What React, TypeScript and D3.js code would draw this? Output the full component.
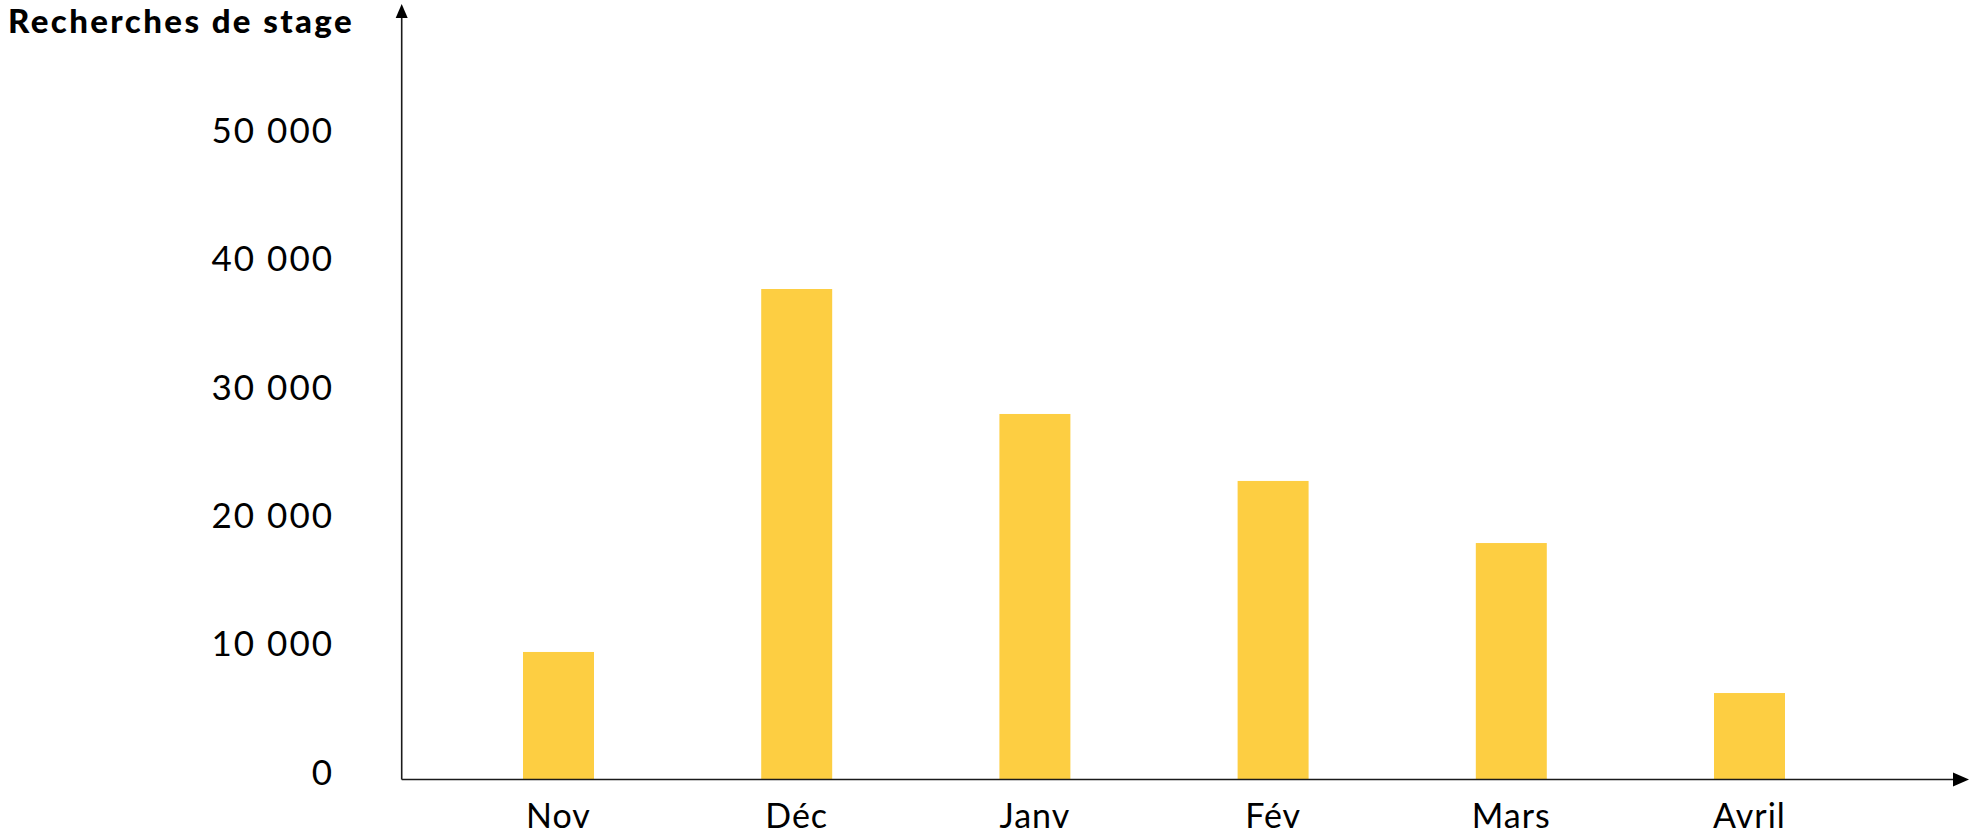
import React, { useEffect, useRef } from "react";
import * as d3 from "d3";

const months = ["Nov", "Déc", "Janv", "Fév", "Mars", "Avril"];
const searches = [9940, 38230, 28490, 23270, 18430, 6740];
const yTicks = [0, 10000, 20000, 30000, 40000, 50000];
const title = "Recherches de stage";

export default function App() {
  const svgRef = useRef<SVGSVGElement>(null);

  useEffect(() => {
    const width = 1972;
    const height = 837;
    const axisX = 401.7;
    const axisY = 779.5;
    const font = "Lato, 'Open Sans', sans-serif";

    const svg = d3.select(svgRef.current);
    svg.selectAll("*").remove();
    svg.attr("width", width).attr("height", height);

    const x = d3.scalePoint<string>()
      .domain(months)
      .range([558.5, 1749.5]);
    const barW = x.step() * 0.298;

    const y = d3.scaleLinear()
      .domain([0, 50000])
      .range([axisY, axisY - 641.5]);

    // bars
    svg.append("g")
      .selectAll("rect")
      .data(months)
      .enter().append("rect")
      .attr("x", d => (x(d) as number) - barW / 2)
      .attr("y", (d, i) => y(searches[i]))
      .attr("width", barW)
      .attr("height", (d, i) => axisY - y(searches[i]))
      .attr("fill", "#FDCE42");

    // axes with arrowheads
    const ax = svg.append("g").attr("stroke", "#1a1a1a").attr("stroke-width", 1.6);
    ax.append("line")
      .attr("x1", axisX).attr("y1", axisY)
      .attr("x2", axisX).attr("y2", 16);
    ax.append("line")
      .attr("x1", axisX).attr("y1", axisY)
      .attr("x2", 1956).attr("y2", axisY);

    const arrow = svg.append("g").attr("fill", "#000");
    arrow.append("path")
      .attr("d", `M${axisX},4 L${axisX - 6},18 L${axisX + 6},18 Z`);
    arrow.append("path")
      .attr("d", `M1969,${axisY} L1953,${axisY - 7} L1953,${axisY + 7} Z`);

    // y tick labels
    const fmt = (v: number) => d3.format(",")(v).replace(/,/g, " ");
    svg.append("g")
      .selectAll("text")
      .data(yTicks)
      .enter().append("text")
      .attr("x", 334)
      .attr("y", d => y(d) - 7.5)
      .attr("dy", "0.36em")
      .attr("text-anchor", "end")
      .style("font-family", font)
      .style("font-size", "35px")
      .style("letter-spacing", "2px")
      .attr("fill", "#000")
      .text(d => fmt(d));

    // category labels
    svg.append("g")
      .selectAll("text")
      .data(months)
      .enter().append("text")
      .attr("x", d => x(d) as number)
      .attr("y", 828)
      .attr("text-anchor", "middle")
      .style("font-family", font)
      .style("font-size", "34px")
      .style("letter-spacing", "1px")
      .attr("fill", "#000")
      .text(d => d);

    // title
    svg.append("text")
      .attr("x", 8)
      .attr("y", 33)
      .style("font-family", font)
      .style("font-weight", "900")
      .style("font-size", "33px")
      .style("letter-spacing", "2.4px")
      .attr("fill", "#000")
      .text(title);
  }, []);

  return (
    <div style={{ position: "absolute", left: 0, top: 0 }}>
      <svg ref={svgRef} style={{ display: "block", background: "#fff" }}></svg>
    </div>
  );
}
